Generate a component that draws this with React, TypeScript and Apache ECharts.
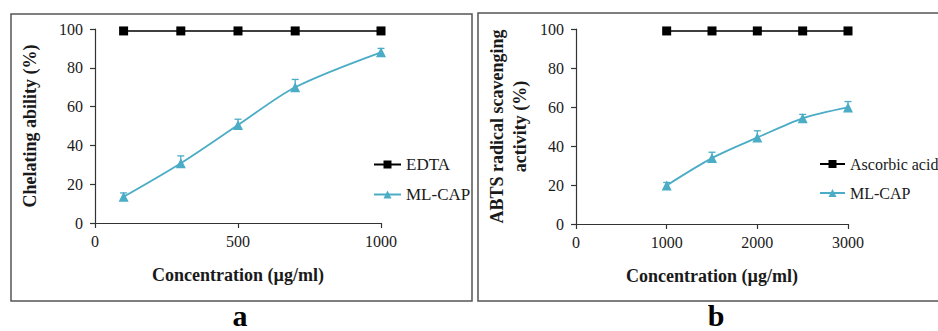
import React, { useEffect, useRef } from "react";
import * as echarts from "echarts";

// Panel a: chelating ability
const concA = [100, 300, 500, 700, 1000];
const edtaA = [99, 99, 99, 99, 99];
const mlcapA = [13.5, 30.8, 50.5, 70, 88];
const mlcapAErr = [2, 3.8, 3, 4, 2];

// Panel b: ABTS radical scavenging
const concB = [1000, 1500, 2000, 2500, 3000];
const ascorbicB = [99, 99, 99, 99, 99];
const mlcapB = [19.8, 33.8, 44.3, 54.2, 59.8];
const mlcapBErr = [1.5, 3, 3.5, 2, 3];

const yTicks = [0, 20, 40, 60, 80, 100];

const FONT = "Liberation Serif, Times New Roman, serif";
const TEAL = "#4BACC6";
const INK = "#1a1a1a";

const zip = (xs: number[], ys: number[]) => xs.map((x, i) => [x, ys[i]]);
const zip3 = (xs: number[], ys: number[], es: number[]) => xs.map((x, i) => [x, ys[i], es[i]]);

const errRender = (params: any, api: any) => {
  const x = api.value(0);
  const y = api.value(1);
  const e = api.value(2);
  const p0 = api.coord([x, y]);
  const p1 = api.coord([x, y + e]);
  const st = { stroke: TEAL, lineWidth: 1.3 };
  return {
    type: "group",
    children: [
      { type: "line", shape: { x1: p0[0], y1: p0[1], x2: p1[0], y2: p1[1] }, style: st },
      { type: "line", shape: { x1: p1[0] - 3.5, y1: p1[1], x2: p1[0] + 3.5, y2: p1[1] }, style: st },
    ],
  };
};

const axisCommon = {
  axisLine: { show: true, lineStyle: { color: "#333", width: 1.2 } },
  axisTick: { show: true, length: 5, lineStyle: { color: "#333", width: 1.2 } },
  splitLine: { show: false },
  axisLabel: {
    color: INK,
    fontFamily: FONT,
    fontSize: 16,
    margin: 10,
    formatter: (v: number) => String(v),
  },
  nameTextStyle: { color: INK, fontFamily: FONT, fontSize: 18, fontWeight: "bold" },
  nameLocation: "middle",
};

const legendText = { color: INK, fontFamily: FONT, fontSize: 17 };

export default function App() {
  const ref = useRef<HTMLDivElement>(null);
  useEffect(() => {
    if (!ref.current) return;
    const chart = echarts.init(ref.current, null, { renderer: "svg" });
    chart.setOption({
      animation: false,
      backgroundColor: "#fff",
      textStyle: { fontFamily: FONT },
      grid: [
        { left: 95, top: 29, width: 286, height: 194 },
        { left: 576, top: 29, width: 272, height: 195 },
      ],
      xAxis: [
        {
          ...axisCommon,
          type: "value",
          gridIndex: 0,
          min: 0,
          max: 1000,
          interval: 500,
          name: "Concentration (µg/ml)",
          nameGap: 43,
        },
        {
          ...axisCommon,
          type: "value",
          gridIndex: 1,
          min: 0,
          max: 3000,
          interval: 1000,
          name: "Concentration (µg/ml)",
          nameGap: 43,
        },
      ],
      yAxis: [
        {
          ...axisCommon,
          type: "value",
          gridIndex: 0,
          min: yTicks[0],
          max: yTicks[yTicks.length - 1],
          interval: yTicks[1] - yTicks[0],
          name: "Chelating ability (%)",
          nameGap: 56,
          axisLabel: { ...axisCommon.axisLabel, margin: 12 },
        },
        {
          ...axisCommon,
          type: "value",
          gridIndex: 1,
          min: yTicks[0],
          max: yTicks[yTicks.length - 1],
          interval: yTicks[1] - yTicks[0],
          name: "ABTS radical scavenging\nactivity (%)",
          nameGap: 45,
          nameTextStyle: { ...axisCommon.nameTextStyle, lineHeight: 23 },
          axisLabel: { ...axisCommon.axisLabel, margin: 12 },
        },
      ],
      legend: [
        {
          data: ["EDTA", "ML-CAP"],
          orient: "vertical",
          left: 373,
          top: 156,
          padding: 0,
          itemGap: 13,
          itemWidth: 27,
          itemHeight: 10,
          textStyle: legendText,
        },
        {
          data: ["Ascorbic acid", "ML-CAP"],
          orient: "vertical",
          left: 819,
          top: 156,
          padding: 0,
          itemGap: 13,
          itemWidth: 25,
          itemHeight: 10,
          textStyle: { ...legendText, fontSize: 16 },
        },
      ],
      series: [
        {
          name: "EDTA",
          type: "line",
          xAxisIndex: 0,
          yAxisIndex: 0,
          data: zip(concA, edtaA),
          symbol: "rect",
          symbolSize: 9,
          itemStyle: { color: "#000" },
          lineStyle: { color: "#000", width: 1.5 },
        },
        {
          name: "ML-CAP",
          type: "line",
          xAxisIndex: 0,
          yAxisIndex: 0,
          data: zip(concA, mlcapA),
          smooth: 0.3,
          symbol: "triangle",
          symbolSize: 10,
          itemStyle: { color: TEAL },
          lineStyle: { color: TEAL, width: 1.8 },
        },
        {
          type: "custom",
          xAxisIndex: 0,
          yAxisIndex: 0,
          data: zip3(concA, mlcapA, mlcapAErr),
          encode: { x: 0, y: 1 },
          renderItem: errRender,
          z: 1,
        },
        {
          name: "Ascorbic acid",
          type: "line",
          xAxisIndex: 1,
          yAxisIndex: 1,
          data: zip(concB, ascorbicB),
          symbol: "rect",
          symbolSize: 9,
          itemStyle: { color: "#000" },
          lineStyle: { color: "#000", width: 1.5 },
        },
        {
          name: "ML-CAP",
          type: "line",
          xAxisIndex: 1,
          yAxisIndex: 1,
          data: zip(concB, mlcapB),
          smooth: 0.3,
          symbol: "triangle",
          symbolSize: 10,
          itemStyle: { color: TEAL },
          lineStyle: { color: TEAL, width: 1.8 },
        },
        {
          type: "custom",
          xAxisIndex: 1,
          yAxisIndex: 1,
          data: zip3(concB, mlcapB, mlcapBErr),
          encode: { x: 0, y: 1 },
          renderItem: errRender,
          z: 1,
        },
      ],
      graphic: [
        {
          type: "rect",
          shape: { x: 11, y: 14, width: 461, height: 287 },
          style: { fill: "none", stroke: "#555", lineWidth: 1.5 },
          silent: true,
        },
        {
          type: "rect",
          shape: { x: 478, y: 13, width: 480, height: 288 },
          style: { fill: "none", stroke: "#555", lineWidth: 1.5 },
          silent: true,
        },
        {
          type: "text",
          x: 240,
          y: 315,
          style: {
            text: "a",
            fontFamily: FONT,
            fontSize: 30,
            fontWeight: "bold",
            fill: "#000",
            align: "center",
            verticalAlign: "middle",
          },
        },
        {
          type: "text",
          x: 716,
          y: 315,
          style: {
            text: "b",
            fontFamily: FONT,
            fontSize: 30,
            fontWeight: "bold",
            fill: "#000",
            align: "center",
            verticalAlign: "middle",
          },
        },
      ],
    });
    return () => chart.dispose();
  }, []);
  return (
    <div
      ref={ref}
      style={{ position: "fixed", left: 0, top: 0, width: 938, height: 331, background: "#fff" }}
    />
  );
}
